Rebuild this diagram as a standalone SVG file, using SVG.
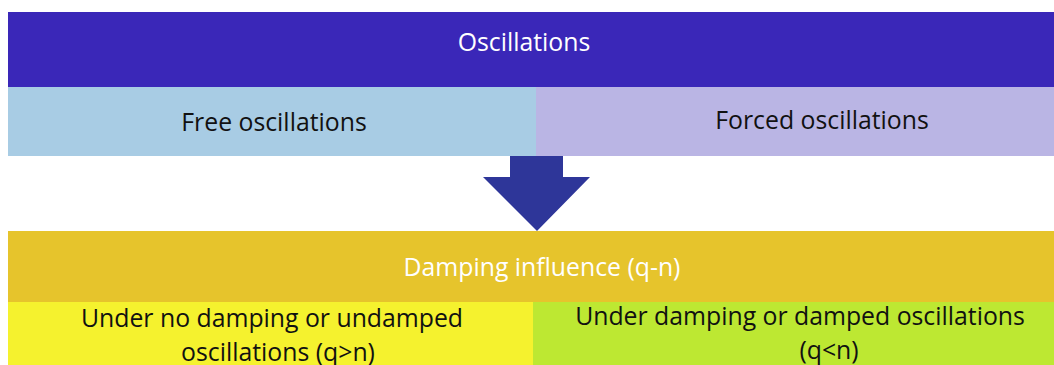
<svg xmlns="http://www.w3.org/2000/svg" width="1054" height="365" viewBox="0 0 1054 365">
<style>
text{font-family:"Open Sans","Liberation Sans",sans-serif;font-size:24.8px;text-anchor:middle}
.w{fill:#ffffff}
.k{fill:#111111}
</style>
<rect width="1054" height="365" fill="#ffffff"/>
<g id="oscillations">
<rect x="8" y="12" width="1046" height="75" fill="#3a27b8"/>
<text class="w" x="524" y="51">Oscillations</text>
</g>
<g id="free">
<rect x="8" y="87" width="528" height="69" fill="#a8cce4"/>
<text class="k" x="274" y="131">Free oscillations</text>
</g>
<g id="forced">
<rect x="536" y="87" width="518" height="69" fill="#bab5e4"/>
<text class="k" x="822" y="129">Forced oscillations</text>
</g>
<g id="connectors">
<polygon points="510,156 563,156 563,177 590,177 537,231 483,177 510,177" fill="#2e3699"/>
</g>
<g id="damping">
<rect x="8" y="231" width="1046" height="71" fill="#e6c42c"/>
<text class="w" x="542" y="276">Damping influence (q-n)</text>
</g>
<g id="undamped">
<rect x="8" y="302" width="525" height="63" fill="#f5f22e"/>
<text class="k" x="272" y="327">Under no damping or undamped</text>
<text class="k" x="278" y="361">oscillations (q&gt;n)</text>
</g>
<g id="damped">
<rect x="533" y="302" width="521" height="63" fill="#bde832"/>
<text class="k" x="800" y="325">Under damping or damped oscillations</text>
<text class="k" x="829" y="359">(q&lt;n)</text>
</g>
</svg>
